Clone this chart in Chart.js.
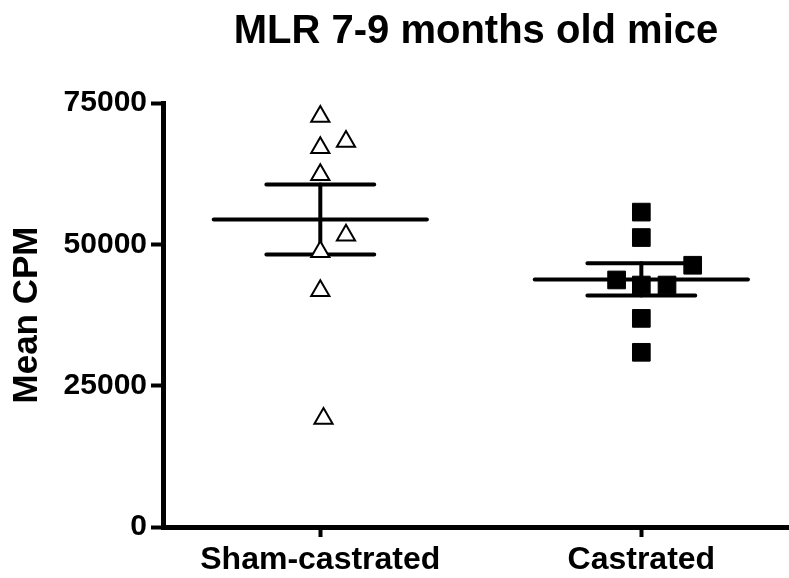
<!DOCTYPE html>
<html><head><meta charset="utf-8">
<script src="https://cdn.jsdelivr.net/npm/chart.js@4"></script>
<style>html,body{margin:0;padding:0;background:#fff}canvas{display:block}</style>
</head><body>
<canvas id="c" width="789" height="578"></canvas>
<script>
const chartTitle = 'MLR 7-9 months old mice';
const yAxisTitle = 'Mean CPM';
const categories = ['Sham-castrated', 'Castrated'];
const yTicks = [0, 25000, 50000, 75000];
const shamValues = [72600, 67100, 68200, 62300, 51600, 48700, 41800, 19200];
const shamJitter = [0, 0, 0.08, 0, 0.08, 0, 0, 0.01];
const castratedValues = [55700, 51200, 46300, 43700, 42800, 42800, 36900, 30900];
const castratedJitter = [0, 0, 0.16, -0.077, 0, 0.08, 0, 0];
const groupMeans = [54400, 43800];
const groupSem = [6200, 2850];

const MEAN_HALF = 0.332, CAP_HALF = 0.168;
const FONT = '"Liberation Sans", Arial, Helvetica, sans-serif';
const catX = i => i + 1;

function pts(values, jitter, i) {
  return values.map((v, k) => ({x: catX(i) + jitter[k], y: v}));
}
function summary(i) {
  const c = catX(i), m = groupMeans[i], s = groupSem[i];
  return [
    [{x: c - MEAN_HALF, y: m}, {x: c + MEAN_HALF, y: m}],
    [{x: c - CAP_HALF, y: m + s}, {x: c + CAP_HALF, y: m + s}, {x: c, y: null},
     {x: c - CAP_HALF, y: m - s}, {x: c + CAP_HALF, y: m - s}],
    [{x: c, y: m - s}, {x: c, y: m + s}]
  ];
}
const lineStyle = {showLine: true, pointRadius: 0, pointHoverRadius: 0, borderColor: '#000',
  borderWidth: 4, borderCapStyle: 'round', spanGaps: false, fill: false};
const lineSets = [];
[0, 1].forEach(i => summary(i).forEach(d => lineSets.push(Object.assign({data: d}, lineStyle))));

new Chart(document.getElementById('c'), {
  type: 'scatter',
  data: {
    datasets: [
      {label: categories[0], data: pts(shamValues, shamJitter, 0), pointStyle: 'triangle',
       pointRadius: 10.5, backgroundColor: '#fff', borderColor: '#000', borderWidth: 2},
      {label: categories[1], data: pts(castratedValues, castratedJitter, 1), pointStyle: 'rect',
       pointRadius: 12.5, backgroundColor: '#000', borderColor: '#000', borderWidth: 1},
      ...lineSets
    ]
  },
  options: {
    responsive: false, animation: false, devicePixelRatio: 1,
    layout: {padding: 0, autoPadding: false},
    plugins: {
      legend: {display: false}, tooltip: {enabled: false},
      title: {display: true, text: chartTitle, fullSize: false, color: '#000',
        font: {family: FONT, size: 40, weight: 'bold'}, padding: {top: 8, bottom: 47}}
    },
    scales: {
      x: {
        type: 'linear', min: 0.51, max: 2.46,
        afterBuildTicks: s => { s.ticks = categories.map((_, i) => ({value: catX(i)})); },
        afterFit: s => { s.height = 51; s.paddingLeft = 0; s.paddingRight = 0; },
        ticks: {callback: v => categories[Math.round(v) - 1], color: '#000', maxRotation: 0,
          autoSkip: false, padding: 4, font: {family: FONT, size: 32, weight: 'bold'}},
        grid: {display: true, drawOnChartArea: false, drawTicks: true, tickLength: 10, tickWidth: 4, tickColor: '#000'},
        border: {display: true, width: 5, color: '#000'}
      },
      y: {
        min: 0, max: 75000,
        afterBuildTicks: s => { s.ticks = yTicks.map(v => ({value: v})); },
        afterFit: s => { s.width = 163; },
        ticks: {callback: v => String(v), color: '#000', padding: 4,
          font: {family: FONT, size: 30, weight: 'bold'}},
        grid: {display: true, drawOnChartArea: false, drawTicks: true, tickLength: 12, tickWidth: 4, tickColor: '#000'},
        border: {display: true, width: 5, color: '#000'},
        title: {display: true, text: yAxisTitle, color: '#000', padding: {top: 6, bottom: 0},
          font: {family: FONT, size: 35, weight: 'bold'}}
      }
    }
  }
});
</script>
</body></html>
